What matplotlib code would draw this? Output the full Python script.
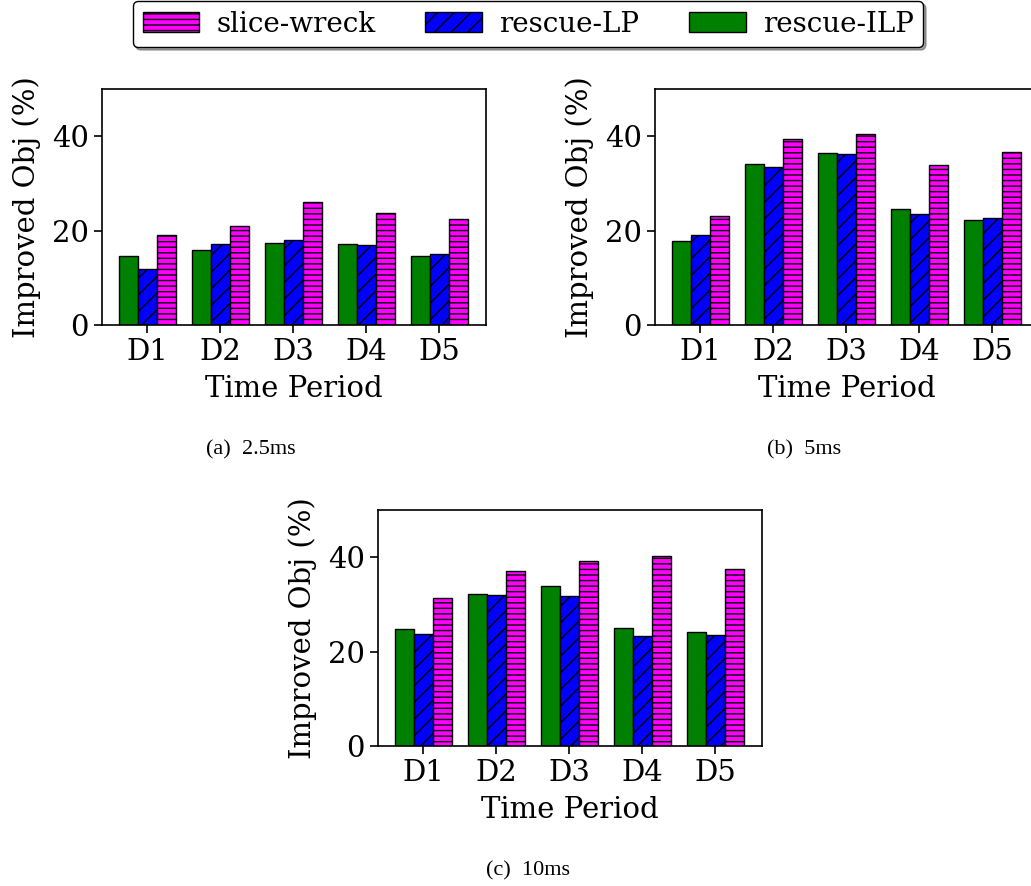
import matplotlib
matplotlib.use("Agg")
import matplotlib.pyplot as plt
import numpy as np

periods = ["D1", "D2", "D3", "D4", "D5"]

# (a) 2.5ms
ilp_a = [14.7, 15.9, 17.4, 17.2, 14.7]
lp_a = [11.9, 17.1, 18.1, 16.9, 15.0]
sw_a = [19.1, 20.9, 26.0, 23.7, 22.5]

# (b) 5ms
ilp_b = [17.7, 34.1, 36.5, 24.5, 22.2]
lp_b = [19.0, 33.4, 36.2, 23.5, 22.6]
sw_b = [23.0, 39.5, 40.5, 33.8, 36.6]

# (c) 10ms
ilp_c = [24.8, 32.3, 33.9, 25.0, 24.1]
lp_c = [23.8, 32.0, 31.8, 23.2, 23.5]
sw_c = [31.4, 37.0, 39.1, 40.3, 37.4]

captions = ["(a)  2.5ms", "(b)  5ms", "(c)  10ms"]

plt.rcParams['font.family'] = 'DejaVu Serif'
plt.rcParams['hatch.linewidth'] = 1.0

fig = plt.figure(figsize=(10.31, 8.86), dpi=100)

W = 1031.0
H = 886.0
# axes boxes in pixels: left, top, right, bottom
boxes = [(102, 89, 486, 325), (655, 89, 1039, 325), (378, 510, 762, 746)]
cap_pos = [(251, 450), (804, 450), (528, 871)]

data = [(ilp_a, lp_a, sw_a), (ilp_b, lp_b, sw_b), (ilp_c, lp_c, sw_c)]

w = 0.26
x = np.arange(len(periods))
handles = None
for i, (l, t, r, b) in enumerate(boxes):
    ax = fig.add_axes([l / W, 1 - b / H, (r - l) / W, (b - t) / H])
    ilp, lp, sw = data[i]
    b1 = ax.bar(x - w, ilp, w, color='green', edgecolor='black', linewidth=1, label='rescue-ILP')
    b2 = ax.bar(x, lp, w, color='blue', edgecolor='black', linewidth=1, hatch='//', label='rescue-LP')
    b3 = ax.bar(x + w, sw, w, color='magenta', edgecolor='black', linewidth=1, hatch='---', label='slice-wreck')
    handles = [b3, b2, b1]
    ax.set_ylim(0, 50)
    ax.set_xlim(-0.62, 4.64)
    ax.set_yticks([0, 20, 40])
    ax.set_xticks(x)
    ax.set_xticklabels(periods)
    ax.tick_params(labelsize=21, length=6, width=1.2)
    ax.set_ylabel("Improved Obj (%)", fontsize=21, labelpad=8)
    ax.set_xlabel("Time Period", fontsize=21, labelpad=6)
    for s in ax.spines.values():
        s.set_linewidth(1.2)
    cx, cy = cap_pos[i]
    fig.text(cx / W, 1 - cy / H, captions[i], fontsize=16, family='Liberation Serif',
             ha='center', va='center')

fig.legend(handles, ['slice-wreck', 'rescue-LP', 'rescue-ILP'], ncol=3,
           loc='center', bbox_to_anchor=(528 / W, 1 - 24 / H), fontsize=20,
           shadow=True, frameon=True, fancybox=True, handlelength=2.05,
           handletextpad=0.6, columnspacing=1.8, borderpad=0.35, edgecolor='black')

fig.savefig("out.png", dpi=100)
